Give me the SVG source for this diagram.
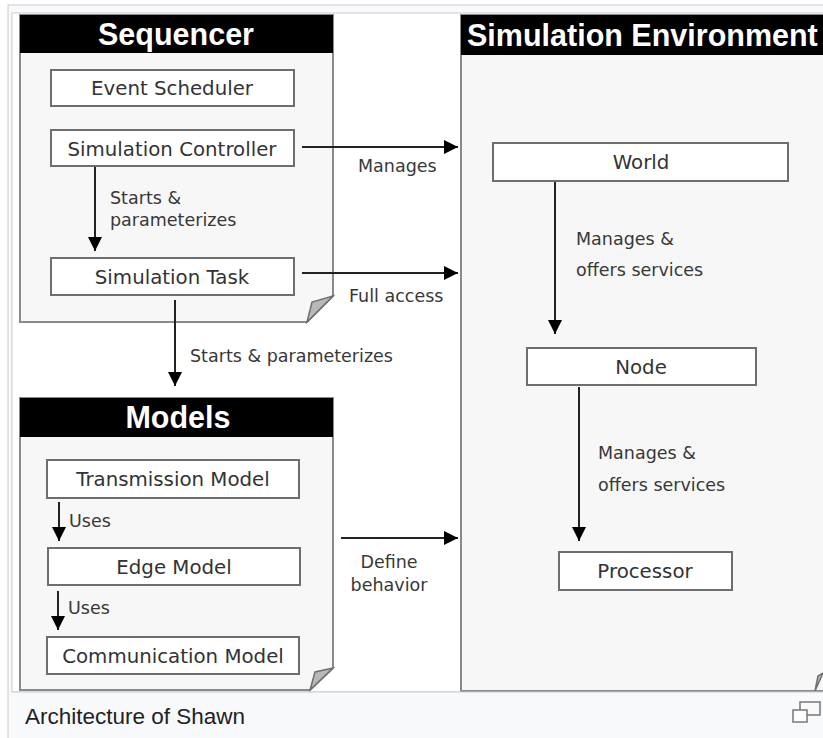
<svg xmlns="http://www.w3.org/2000/svg" width="823" height="738" viewBox="0 0 823 738">
<style>
.panel{fill:#f7f7f7;stroke:#8a8a8a;stroke-width:2}
.hdr{fill:#000}
.htxt{font-family:"Liberation Sans",Arial,sans-serif;font-weight:bold;font-size:30.5px;fill:#fff}
.box{fill:#fff;stroke:#6e6e6e;stroke-width:2}
.btxt{font-family:"DejaVu Sans",Verdana,sans-serif;font-size:19.8px;fill:#333;text-anchor:middle}
.lbl{font-family:"DejaVu Sans",Verdana,sans-serif;font-size:17.5px;fill:#383838}
.fold{fill:#b8b8b8;stroke:#707070;stroke-width:1.5}
.conn{stroke:#222;stroke-width:2;fill:none;marker-end:url(#ah)}
</style>
<defs>
<marker id="ah" markerUnits="userSpaceOnUse" markerWidth="16" markerHeight="14" refX="14" refY="7" orient="auto">
<path d="M0,0 L14,7 L0,14 Z" fill="#000"/>
</marker>
</defs>
<rect x="8" y="5" width="830" height="740" fill="#f8f9fa" stroke="#c8ccd1"/>
<rect x="12" y="13" width="815" height="679" fill="#fff" stroke="#c8ccd1"/>

<g id="sequencer">
<path class="panel" d="M20,15 H333 V296 L307,322 H20 Z"/>
<rect class="hdr" x="20" y="15" width="313" height="38"/>
<text class="htxt" x="176" y="45" text-anchor="middle">Sequencer</text>
<polygon class="fold" points="307,322 312,302 333,296"/>
</g>
<g id="event-scheduler">
<rect class="box" x="51" y="70" width="243" height="36"/>
<text class="btxt" x="172" y="95">Event Scheduler</text>
</g>
<g id="simulation-controller">
<rect class="box" x="51" y="130" width="243" height="36"/>
<text class="btxt" x="172" y="156">Simulation Controller</text>
</g>
<g id="simulation-task">
<rect class="box" x="51" y="258" width="243" height="37"/>
<text class="btxt" x="172" y="284">Simulation Task</text>
</g>

<g id="models">
<path class="panel" d="M20,398 H333 V668 L310,690 H20 Z"/>
<rect class="hdr" x="20" y="398" width="313" height="39"/>
<text class="htxt" x="178" y="428" text-anchor="middle">Models</text>
<polygon class="fold" points="310,690 315,672 333,668"/>
</g>
<g id="transmission-model">
<rect class="box" x="47" y="460" width="252" height="38"/>
<text class="btxt" x="173" y="486">Transmission Model</text>
</g>
<g id="edge-model">
<rect class="box" x="48" y="548" width="252" height="37"/>
<text class="btxt" x="174" y="574">Edge Model</text>
</g>
<g id="communication-model">
<rect class="box" x="47" y="637" width="252" height="37"/>
<text class="btxt" x="173" y="663">Communication Model</text>
</g>

<g id="simulation-environment">
<path class="panel" d="M461,15 H830 V691 H461 Z"/>
<rect class="hdr" x="461" y="15" width="370" height="40"/>
<text class="htxt" x="467" y="46">Simulation Environment</text>
<polygon class="fold" points="815,691 818,676 823,673"/>
</g>
<g id="world">
<rect class="box" x="493" y="143" width="295" height="38"/>
<text class="btxt" x="641" y="169">World</text>
</g>
<g id="node">
<rect class="box" x="527" y="348" width="229" height="37"/>
<text class="btxt" x="641" y="374">Node</text>
</g>
<g id="processor">
<rect class="box" x="559" y="552" width="173" height="38"/>
<text class="btxt" x="645" y="578">Processor</text>
</g>

<g id="connectors">
<line class="conn" x1="95" y1="167" x2="95" y2="251"/>
<text class="lbl" x="110" y="204">Starts &amp;</text>
<text class="lbl" x="110" y="226">parameterizes</text>
<line class="conn" x1="302" y1="147" x2="458" y2="147"/>
<text class="lbl" x="358" y="172">Manages</text>
<line class="conn" x1="302" y1="273" x2="458" y2="273"/>
<text class="lbl" x="349" y="302">Full access</text>
<line class="conn" x1="175" y1="300" x2="175" y2="386"/>
<text class="lbl" x="190" y="362">Starts &amp; parameterizes</text>
<line class="conn" x1="59" y1="502" x2="59" y2="541"/>
<text class="lbl" x="69" y="527">Uses</text>
<line class="conn" x1="58" y1="591" x2="58" y2="630"/>
<text class="lbl" x="68" y="614">Uses</text>
<line class="conn" x1="341" y1="538" x2="458" y2="538"/>
<text class="lbl" x="389" y="568" text-anchor="middle">Define</text>
<text class="lbl" x="389" y="591" text-anchor="middle">behavior</text>
<line class="conn" x1="555" y1="182" x2="555" y2="334"/>
<text class="lbl" x="576" y="245">Manages &amp;</text>
<text class="lbl" x="576" y="276">offers services</text>
<line class="conn" x1="579" y1="387" x2="579" y2="541"/>
<text class="lbl" x="598" y="459">Manages &amp;</text>
<text class="lbl" x="598" y="491">offers services</text>
</g>

<rect x="9" y="692" width="814" height="46" fill="#f8f9fa"/>
<line x1="12" y1="692" x2="823" y2="692" stroke="#c8ccd1"/>
<text x="25" y="724" font-family="'Liberation Sans',Arial,sans-serif" font-size="22.5" fill="#222">Architecture of Shawn</text>
<rect x="800" y="702" width="20" height="13" fill="none" stroke="#777" stroke-width="1.5"/>
<rect x="793" y="710" width="14" height="12" fill="#fff" stroke="#777" stroke-width="1.5"/>
</svg>
